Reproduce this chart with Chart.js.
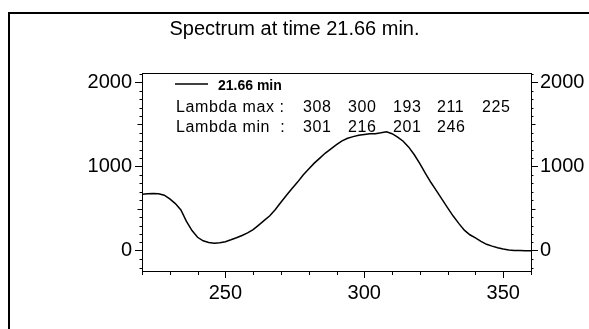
<!DOCTYPE html>
<html><head><meta charset="utf-8">
<script src="https://cdn.jsdelivr.net/npm/chart.js@4.4.0/dist/chart.umd.min.js"></script>
<style>
html,body{margin:0;padding:0;background:#fff;overflow:hidden;width:589px;height:329px;}
#frame{position:absolute;left:8px;top:12px;width:700px;height:400px;border:2px solid #000;box-sizing:border-box;}
#c{position:absolute;left:0;top:0;}
</style></head><body>
<div id="frame"></div>
<canvas id="c" width="589" height="329"></canvas>
<script>
const titleText = 'Spectrum at time 21.66 min.';
const seriesLabel = '21.66 min';
const wavelengths = [220,222,224,226,228,230,232,234,236,238,240,242,244,246,248,250,252,254,256,258,260,262,264,266,268,270,272,274,276,278,280,282,284,286,288,290,292,294,296,298,300,302,304,306,308,310,312,314,316,318,320,322,324,326,328,330,332,334,336,338,340,342,344,346,348,350,352,354,356,358,360];
const absorbance = [670,678,680,678,660,615,560,485,350,240,160,118,98,88,95,108,130,155,182,212,252,305,360,415,490,575,660,740,815,900,970,1040,1100,1160,1210,1260,1305,1335,1355,1370,1380,1388,1390,1400,1412,1390,1350,1300,1230,1140,1035,920,810,710,610,510,412,325,245,190,152,112,77,55,36,22,10,4,2,0,0];
const lambdaMax = [308,300,193,211,225];
const lambdaMin = [301,216,201,246];
const xTickLabels = [250,300,350];
const yTickLabels = [0,1000,2000];

const FONT = 'Arial, "Liberation Sans", sans-serif';
const tickFont = {family: FONT, size: 20, weight: 'normal', lineHeight: 1.2};

const extras = {
  id: 'extras',
  afterDraw(chart) {
    const ctx = chart.ctx, a = chart.chartArea;
    const xs = chart.scales.x, ys = chart.scales.y, ys2 = chart.scales.y2;
    ctx.save();
    ctx.strokeStyle = '#000';
    ctx.lineWidth = 1;
    // top border of plot box
    ctx.beginPath();
    ctx.moveTo(Math.round(a.left) , Math.round(a.top) + 0.5);
    ctx.lineTo(Math.round(a.right), Math.round(a.top) + 0.5);
    ctx.stroke();
    // minor x ticks
    ctx.beginPath();
    xs.ticks.forEach(t => {
      if (xTickLabels.includes(t.value)) return;
      const px = Math.round(xs.getPixelForValue(t.value)) + 0.5;
      ctx.moveTo(px, a.bottom); ctx.lineTo(px, a.bottom + 4);
    });
    // minor y ticks both sides
    ys.ticks.forEach(t => {
      if (t.value % 100 !== 0 || yTickLabels.includes(t.value)) return;
      const len = (t.value % 500 === 0) ? 4.5 : 2.5;
      const py = Math.round(ys.getPixelForValue(t.value)) + 0.5;
      ctx.moveTo(a.left - len, py); ctx.lineTo(a.left, py);
      ctx.moveTo(a.right, py); ctx.lineTo(a.right + len, py);
    });
    ctx.stroke();
    // legend
    const lx = a.left + 33, ly = a.top + 11;
    ctx.lineWidth = 1.5;
    ctx.beginPath(); ctx.moveTo(lx, ly); ctx.lineTo(lx + 33, ly); ctx.stroke();
    ctx.fillStyle = '#000';
    ctx.textBaseline = 'middle';
    ctx.textAlign = 'left';
    ctx.font = 'bold 14px ' + FONT;
    ctx.fillText(seriesLabel, a.left + 76, a.top + 13.5);
    ctx.font = '16px ' + FONT;
    if ('letterSpacing' in ctx) ctx.letterSpacing = '0.6px';
    ctx.fillText('Lambda max :', a.left + 34, a.top + 34.5);
    ctx.fillText('Lambda min  :', a.left + 34, a.top + 55);
    const cols = [161, 206, 251, 295, 340];
    lambdaMax.forEach((v, i) => ctx.fillText(String(v), a.left + cols[i], a.top + 34.5));
    lambdaMin.forEach((v, i) => ctx.fillText(String(v), a.left + cols[i], a.top + 55));
    ctx.restore();
  }
};

const yCommon = {
  type: 'linear', min: -240, max: 2110,
  ticks: {stepSize: 100, autoSkip: false, includeBounds: false, padding: 3, color: '#000', font: tickFont,
    callback: v => yTickLabels.includes(v) ? String(v) : ''},
  grid: {drawOnChartArea: false, drawTicks: true, tickLength: 7, tickWidth: 1,
    color: 'rgba(0,0,0,0)',
    tickColor: c => (c.tick && yTickLabels.includes(c.tick.value)) ? '#000' : 'rgba(0,0,0,0)'},
  border: {display: true, color: '#000', width: 1}
};

new Chart(document.getElementById('c').getContext('2d'), {
  type: 'line',
  data: {datasets: [{
    label: seriesLabel,
    data: wavelengths.map((w, i) => ({x: w, y: absorbance[i]})),
    borderColor: '#000', borderWidth: 1.5, pointRadius: 0, tension: 0, fill: false,
    xAxisID: 'x', yAxisID: 'y'
  }]},
  options: {
    responsive: false, animation: false, devicePixelRatio: 1,
    layout: {padding: 0},
    plugins: {
      legend: {display: false}, tooltip: {enabled: false},
      title: {display: true, text: titleText, color: '#000',
        font: {family: FONT, size: 20, weight: 'normal', lineHeight: 1.2},
        padding: {top: 17, bottom: 32}}
    },
    scales: {
      x: {type: 'linear', position: 'bottom', min: 220, max: 360,
        ticks: {stepSize: 10, autoSkip: false, maxRotation: 0, minRotation: 0, includeBounds: false, padding: 3, color: '#000', font: tickFont,
          callback: v => xTickLabels.includes(v) ? String(v) : ''},
        grid: {drawOnChartArea: false, drawTicks: true, tickLength: 7, tickWidth: 1,
          color: 'rgba(0,0,0,0)',
          tickColor: c => (c.tick && xTickLabels.includes(c.tick.value)) ? '#000' : 'rgba(0,0,0,0)'},
        border: {display: true, color: '#000', width: 1},
        afterFit: s => { s.height = 58; }
      },
      y: Object.assign({}, yCommon, {position: 'left', afterFit: s => { s.width = 142; }}),
      y2: Object.assign({}, yCommon, {position: 'right', ticks: Object.assign({}, yCommon.ticks, {padding: 2}), afterFit: s => { s.width = 58; }})
    }
  },
  plugins: [extras]
});
</script>
</body></html>
